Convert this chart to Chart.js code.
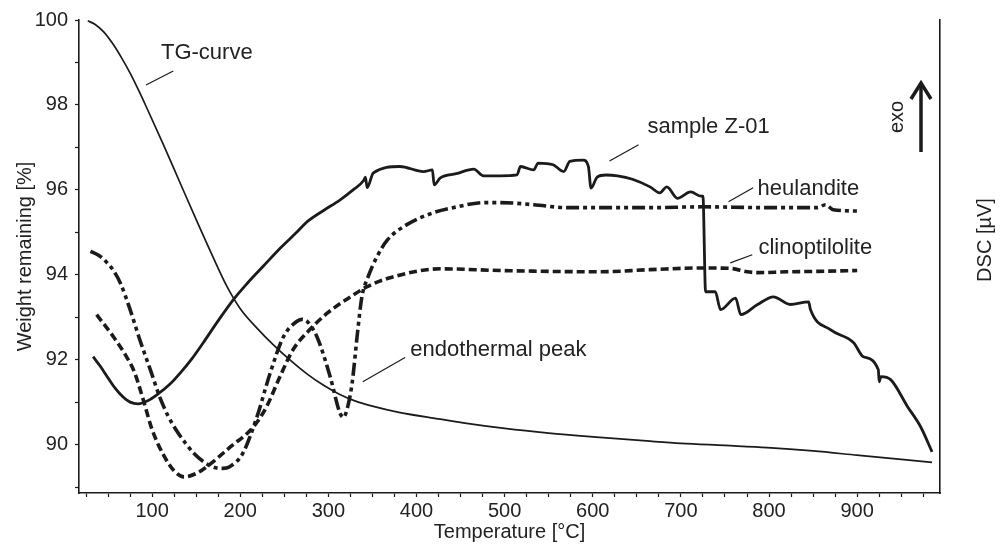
<!DOCTYPE html>
<html lang="en">
<head>
    <meta charset="UTF-8">
    <title>TG / DSC curves</title>
    <script src="https://cdn.jsdelivr.net/npm/chart.js"></script>
    <style>
        html, body { margin: 0; padding: 0; background: #fff; }
        #wrap { width: 1000px; height: 545px; }
    </style>
</head>
<body>
    <div id="wrap"><canvas id="dtaChart" width="1000" height="545"></canvas></div>

    <script>
        // temperatures [°C] and values
        const tgTemp = [27, 35, 45, 55, 65, 75, 85, 95, 112, 132, 151, 169, 185, 200, 220, 237, 256, 276, 295, 313, 330, 351, 380, 427, 457, 500, 550, 608, 665, 700, 750, 798, 850, 900, 950, 985];
        const tgWeight = [99.98, 99.9, 99.72, 99.45, 99.12, 98.75, 98.33, 97.88, 97.1, 96.15, 95.25, 94.42, 93.72, 93.2, 92.72, 92.36, 92.0, 91.66, 91.39, 91.18, 91.03, 90.9, 90.76, 90.6, 90.5, 90.38, 90.27, 90.17, 90.08, 90.03, 89.98, 89.93, 89.85, 89.75, 89.65, 89.58];

        const sampleTemp = [33, 41, 49, 58, 67, 75, 84, 95, 106, 120, 132, 145, 158, 175, 192, 208, 226, 245, 264, 276, 295, 313, 328, 340, 342, 344, 351, 381, 408, 418, 420, 427, 445, 465, 476, 495, 514, 518, 533, 538, 555, 567, 574, 589, 595, 598, 605, 615, 628, 645, 665, 676, 684, 696, 711, 723, 725, 728, 739, 745, 762, 768, 787, 805, 824, 845, 847, 870, 896, 907, 924, 925, 927, 938, 957, 972, 985];
        const sampleDsc = [92.07, 91.85, 91.6, 91.33, 91.12, 91.0, 90.96, 91.03, 91.18, 91.42, 91.69, 92.02, 92.4, 92.92, 93.41, 93.8, 94.2, 94.62, 95.0, 95.25, 95.52, 95.76, 96.0, 96.22, 96.3, 96.05, 96.4, 96.55, 96.43, 96.47, 96.12, 96.28, 96.38, 96.49, 96.33, 96.33, 96.35, 96.55, 96.47, 96.63, 96.59, 96.43, 96.67, 96.7, 96.55, 96.04, 96.3, 96.35, 96.33, 96.25, 96.07, 95.93, 96.07, 95.8, 95.95, 95.85, 95.85, 93.6, 93.6, 93.18, 93.45, 93.06, 93.3, 93.48, 93.3, 93.36, 93.18, 92.7, 92.4, 92.07, 91.76, 91.48, 91.6, 91.53, 90.9, 90.42, 89.83];

        const heulTemp = [30, 40, 49, 57, 64, 75, 86, 98, 109, 118, 128, 138, 147, 158, 169, 180, 188, 203, 219, 234, 249, 264, 270, 276, 287, 302, 313, 317, 322, 327, 333, 338, 345, 355, 367, 389, 419, 446, 476, 495, 533, 571, 608, 665, 725, 800, 855, 864, 873, 904];
        const heulDsc = [94.55, 94.45, 94.28, 94.07, 93.8, 93.18, 92.47, 91.76, 91.1, 90.68, 90.32, 90.03, 89.8, 89.6, 89.47, 89.44, 89.48, 89.8, 90.66, 91.69, 92.54, 92.9, 92.95, 92.9, 92.54, 91.6, 90.75, 90.64, 90.9, 91.46, 92.63, 93.48, 93.95, 94.42, 94.82, 95.18, 95.46, 95.6, 95.7, 95.7, 95.65, 95.58, 95.58, 95.58, 95.6, 95.58, 95.58, 95.65, 95.53, 95.5];

        const clinoTemp = [37, 56, 70, 80, 90, 100, 113, 125, 136, 150, 162, 189, 215, 230, 245, 260, 279, 299, 325, 344, 370, 427, 495, 608, 665, 725, 756, 775, 787, 820, 855, 900];
        const clinoDsc = [93.06, 92.54, 92.1, 91.7, 91.05, 90.35, 89.75, 89.38, 89.24, 89.32, 89.48, 89.95, 90.42, 90.9, 91.6, 92.24, 92.71, 93.1, 93.48, 93.72, 93.93, 94.14, 94.1, 94.07, 94.12, 94.16, 94.15, 94.07, 94.05, 94.07, 94.08, 94.1];

        const weightTicks = [90, 92, 94, 96, 98, 100];
        const tempTicks = [100, 200, 300, 400, 500, 600, 700, 800, 900];

        // callouts: text anchor and pointer line, in data units (T, value)
        const callouts = [
            { text: 'TG-curve', x: 162, y: 99.22, from: [93, 98.47], to: [124, 98.8], align: 'center' },
            { text: 'sample Z-01', x: 662, y: 97.48, from: [619, 96.68], to: [652, 97.06], align: 'left' },
            { text: 'heulandite', x: 787, y: 96.02, from: [754, 95.72], to: [782, 96.05], align: 'left' },
            { text: 'clinoptilolite', x: 788, y: 94.64, from: [756, 94.28], to: [781, 94.47], align: 'left' },
            { text: 'endothermal peak', x: 393, y: 92.24, from: [339, 91.48], to: [387, 92.05], align: 'left' }
        ];

        const FONT = '"Liberation Sans", Arial, sans-serif';
        const INK = '#1b1b1b';

        const pairs = (xs, ys) => xs.map((x, i) => ({ x: x, y: ys[i] }));

        const annotate = {
            id: 'annotate',
            afterDatasetsDraw(chart) {
                const ctx = chart.ctx;
                const sx = chart.scales.x, sy = chart.scales.y;
                ctx.save();
                ctx.fillStyle = '#222';
                ctx.strokeStyle = INK;
                ctx.font = '22px ' + FONT;
                ctx.textBaseline = 'middle';
                callouts.forEach(c => {
                    ctx.lineWidth = 1.2;
                    ctx.beginPath();
                    ctx.moveTo(sx.getPixelForValue(c.from[0]), sy.getPixelForValue(c.from[1]));
                    ctx.lineTo(sx.getPixelForValue(c.to[0]), sy.getPixelForValue(c.to[1]));
                    ctx.stroke();
                    ctx.textAlign = c.align;
                    ctx.fillText(c.text, sx.getPixelForValue(c.x), sy.getPixelForValue(c.y));
                });

                // exo arrow near the right axis
                const ax = chart.chartArea.right - 19;
                ctx.lineWidth = 3.5;
                ctx.beginPath();
                ctx.moveTo(ax, 152);
                ctx.lineTo(ax, 85);
                ctx.stroke();
                ctx.beginPath();
                ctx.moveTo(ax - 10, 99);
                ctx.lineTo(ax, 83);
                ctx.lineTo(ax + 10, 99);
                ctx.stroke();

                ctx.font = '20px ' + FONT;
                ctx.textAlign = 'center';
                ctx.translate(ax - 24, 117);
                ctx.rotate(-Math.PI / 2);
                ctx.fillText('exo', 0, 0);
                ctx.restore();

                // right axis title, reading upward
                ctx.save();
                ctx.fillStyle = '#222';
                ctx.font = '20px ' + FONT;
                ctx.textAlign = 'center';
                ctx.textBaseline = 'middle';
                ctx.translate(985, 240);
                ctx.rotate(-Math.PI / 2);
                ctx.fillText('DSC [µV]', 0, 0);
                ctx.restore();
            }
        };

        const baseLine = {
            pointRadius: 0, borderColor: INK, fill: false,
            borderCapStyle: 'butt', cubicInterpolationMode: 'monotone'
        };

        new Chart(document.getElementById('dtaChart'), {
            type: 'line',
            data: {
                datasets: [
                    Object.assign({}, baseLine, {
                        label: 'TG-curve', data: pairs(tgTemp, tgWeight), yAxisID: 'y',
                        borderWidth: 1.7
                    }),
                    Object.assign({}, baseLine, {
                        label: 'sample Z-01', data: pairs(sampleTemp, sampleDsc), yAxisID: 'y2',
                        borderWidth: 2.8, borderJoinStyle: 'round'
                    }),
                    Object.assign({}, baseLine, {
                        label: 'heulandite', data: pairs(heulTemp, heulDsc), yAxisID: 'y2',
                        borderWidth: 3.6, borderDash: [13, 4, 4, 4, 4, 4]
                    }),
                    Object.assign({}, baseLine, {
                        label: 'clinoptilolite', data: pairs(clinoTemp, clinoDsc), yAxisID: 'y2',
                        borderWidth: 3.6, borderDash: [8, 4]
                    })
                ]
            },
            options: {
                responsive: false,
                animation: false,
                layout: { padding: { top: 20, left: 0, right: 0, bottom: 0 } },
                plugins: { legend: { display: false }, tooltip: { enabled: false } },
                scales: {
                    x: {
                        type: 'linear',
                        min: 17,
                        max: 994,
                        afterFit: s => { s.height = 52; },
                        border: { display: true, color: INK, width: 1.6 },
                        grid: { drawOnChartArea: false, tickLength: 4, color: INK, tickWidth: 1.2 },
                        ticks: {
                            stepSize: 25,
                            includeBounds: false,
                            autoSkip: false,
                            maxRotation: 0,
                            padding: 2,
                            color: '#222',
                            font: { family: FONT, size: 20 },
                            callback: v => tempTicks.includes(v) ? String(v) : ''
                        },
                        title: {
                            display: true, text: 'Temperature [°C]', color: '#222',
                            font: { family: FONT, size: 20 }, padding: { top: 0, bottom: 1 }
                        }
                    },
                    y: {
                        position: 'left',
                        min: 88.86,
                        max: 100,
                        afterFit: s => { s.width = 79; },
                        border: { display: true, color: INK, width: 1.6 },
                        grid: { drawOnChartArea: false, tickLength: 4, color: INK, tickWidth: 1.2 },
                        ticks: {
                            stepSize: 1,
                            includeBounds: false,
                            autoSkip: false,
                            padding: 7,
                            color: '#222',
                            font: { family: FONT, size: 20 },
                            callback: v => weightTicks.includes(v) ? String(v) : ''
                        },
                        title: {
                            display: true, text: 'Weight remaining [%]', color: '#222',
                            font: { family: FONT, size: 20 }, padding: { top: 13, bottom: 0 }
                        }
                    },
                    y2: {
                        position: 'right',
                        min: 88.86,
                        max: 100,
                        afterFit: s => { s.width = 60; },
                        border: { display: true, color: INK, width: 1.6 },
                        grid: { display: false },
                        ticks: { display: false }
                    }
                }
            },
            plugins: [annotate]
        });
    </script>
</body>
</html>
